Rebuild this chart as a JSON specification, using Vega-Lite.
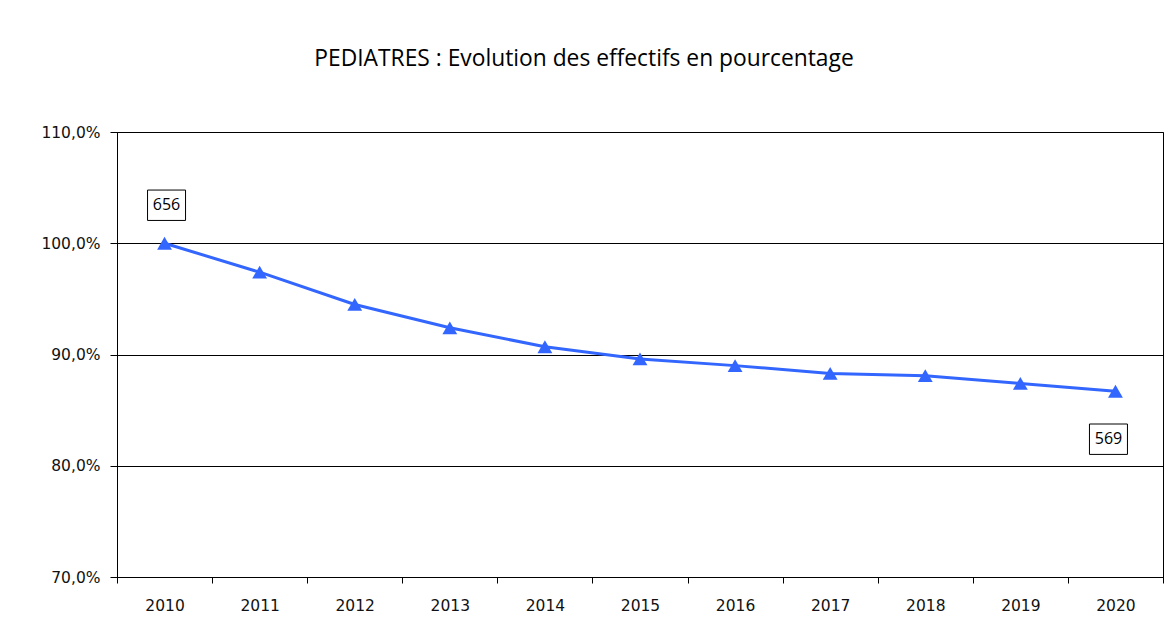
{
  "$schema": "https://vega.github.io/schema/vega-lite/v6.json",
  "width": 1046,
  "height": 445,
  "autosize": "none",
  "padding": {"left": 117, "top": 132, "right": 10, "bottom": 66},
  "background": "white",
  "title": {
    "text": "PEDIATRES : Evolution des effectifs en pourcentage",
    "font": "Open Sans",
    "fontSize": 22.8,
    "fontWeight": "normal",
    "color": "black",
    "anchor": "middle",
    "dx": -56,
    "offset": 54
  },
  "data": {
    "values": [
      {"year": "2010", "pct": 1.0, "label": "656"},
      {"year": "2011", "pct": 0.974, "label": ""},
      {"year": "2012", "pct": 0.945, "label": ""},
      {"year": "2013", "pct": 0.924, "label": ""},
      {"year": "2014", "pct": 0.907, "label": ""},
      {"year": "2015", "pct": 0.896, "label": ""},
      {"year": "2016", "pct": 0.89, "label": ""},
      {"year": "2017", "pct": 0.883, "label": ""},
      {"year": "2018", "pct": 0.881, "label": ""},
      {"year": "2019", "pct": 0.874, "label": ""},
      {"year": "2020", "pct": 0.867, "label": "569"}
    ]
  },
  "encoding": {
    "x": {
      "field": "year",
      "type": "ordinal",
      "scale": {"paddingInner": 0, "paddingOuter": 0},
      "axis": {
        "title": null,
        "labelAngle": 0,
        "labelFont": "DejaVu Sans",
        "labelFontSize": 15.5,
        "labelColor": "#111",
        "labelPadding": 15,
        "tickBand": "extent",
        "tickSize": 6,
        "tickColor": "black",
        "domainColor": "black",
        "grid": false
      }
    },
    "y": {
      "field": "pct",
      "type": "quantitative",
      "scale": {"domain": [0.7, 1.1], "nice": false, "zero": false},
      "axis": {
        "title": null,
        "values": [0.7, 0.8, 0.9, 1.0, 1.1],
        "labelExpr": "replace(format(datum.value, '.1%'), '.', ',')",
        "labelFont": "DejaVu Sans",
        "labelFontSize": 15.5,
        "labelColor": "#111",
        "labelPadding": 10,
        "tickSize": 7,
        "tickColor": "black",
        "domainColor": "black",
        "grid": true,
        "gridColor": "black",
        "gridOpacity": 1,
        "gridWidth": 1
      }
    }
  },
  "layer": [
    {
      "mark": {"type": "line", "color": "#3366ff", "strokeWidth": 3}
    },
    {
      "mark": {"type": "point", "shape": "triangle-up", "filled": true, "color": "#3366ff", "opacity": 1, "size": 220}
    },
    {
      "transform": [{"filter": "datum.year == '2010'"}],
      "layer": [
        {"mark": {"type": "point", "shape": "M-1,-0.8H1V0.8H-1Z", "size": 1444, "filled": false, "fill": "white", "stroke": "black", "strokeWidth": 1, "opacity": 1, "yOffset": -38, "xOffset": 2}},
        {"mark": {"type": "text", "font": "Open Sans", "fontSize": 16, "color": "black", "yOffset": -38, "xOffset": 2, "baseline": "middle"}, "encoding": {"text": {"field": "label"}}}
      ]
    },
    {
      "transform": [{"filter": "datum.year == '2020'"}],
      "layer": [
        {"mark": {"type": "point", "shape": "M-1,-0.8H1V0.8H-1Z", "size": 1444, "filled": false, "fill": "white", "stroke": "black", "strokeWidth": 1, "opacity": 1, "yOffset": 48, "xOffset": -7}},
        {"mark": {"type": "text", "font": "Open Sans", "fontSize": 16, "color": "black", "yOffset": 48, "xOffset": -7, "baseline": "middle"}, "encoding": {"text": {"field": "label"}}}
      ]
    }
  ],
  "config": {
    "view": {"stroke": "black", "strokeWidth": 1}
  }
}
